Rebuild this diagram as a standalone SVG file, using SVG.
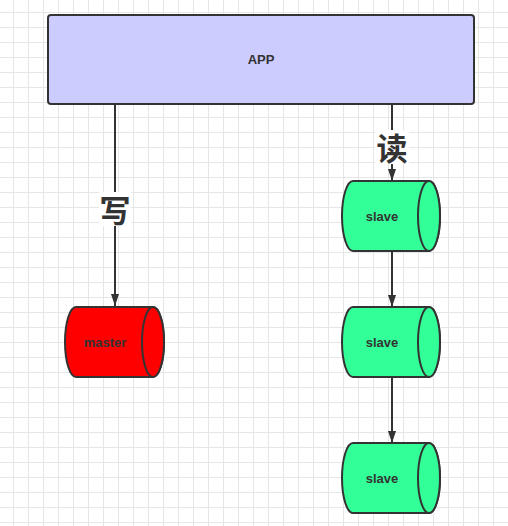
<svg xmlns="http://www.w3.org/2000/svg" width="508" height="526" viewBox="0 0 508 526">
<defs>
<pattern id="grid" patternUnits="userSpaceOnUse" x="13" y="12" width="15" height="15">
<path d="M0 0.5H15M0.5 0V15" stroke="#e6e6e6" stroke-width="1" fill="none"/>
</pattern>
<marker id="arr" viewBox="0 0 12 8" refX="12" refY="4" markerUnits="userSpaceOnUse" markerWidth="12" markerHeight="8" orient="auto">
<path d="M0 0L12 4L0 8Z" fill="#333"/>
</marker>
<style>
.conn{stroke:#333;stroke-width:2;fill:none}
.cyl{stroke:#333;stroke-width:2}
.lbl{font-family:"Liberation Sans",Arial,sans-serif;font-weight:bold;font-size:13px;fill:#333;text-anchor:middle;dominant-baseline:central}
.cjk{font-family:"Noto Sans CJK SC",sans-serif;font-weight:bold;font-size:31px;fill:#333;text-anchor:middle;dominant-baseline:central}
</style>
</defs>
<rect width="508" height="526" fill="#fff"/>
<rect width="508" height="526" fill="url(#grid)"/>
<g id="connectors">
<line class="conn" x1="115" y1="104" x2="115" y2="306" marker-end="url(#arr)"/>
<rect x="99" y="192" width="32" height="34" fill="#fff"/>
<text class="cjk" x="115" y="208">写</text>
<line class="conn" x1="392" y1="104" x2="392" y2="181" marker-end="url(#arr)"/>
<rect x="375" y="130" width="34" height="34" fill="#fff"/>
<text class="cjk" x="392" y="146">读</text>
<line class="conn" x1="392" y1="251" x2="392" y2="307" marker-end="url(#arr)"/>
<line class="conn" x1="392" y1="377" x2="392" y2="443" marker-end="url(#arr)"/>
</g>
<g id="app">
<rect x="48" y="15" width="426" height="89" rx="3" fill="#ccccff" stroke="#333" stroke-width="2"/>
<text class="lbl" x="261" y="59.5">APP</text>
</g>
<g id="master">
<path class="cyl" fill="#ff0000" d="M76 307H153A11 35 0 0 1 153 377H76A11 35 0 0 1 76 307Z"/>
<ellipse class="cyl" fill="#ff0000" cx="153" cy="342" rx="11" ry="35"/>
<text class="lbl" x="105" y="342">master</text>
</g>
<g id="slave1">
<path class="cyl" fill="#33ff99" d="M353 181H429A11 35 0 0 1 429 251H353A11 35 0 0 1 353 181Z"/>
<ellipse class="cyl" fill="#33ff99" cx="429" cy="216" rx="11" ry="35"/>
<text class="lbl" x="382" y="216">slave</text>
</g>
<g id="slave2">
<path class="cyl" fill="#33ff99" d="M353 307H429A11 35 0 0 1 429 377H353A11 35 0 0 1 353 307Z"/>
<ellipse class="cyl" fill="#33ff99" cx="429" cy="342" rx="11" ry="35"/>
<text class="lbl" x="382" y="342">slave</text>
</g>
<g id="slave3">
<path class="cyl" fill="#33ff99" d="M353 443H429A11 35 0 0 1 429 513H353A11 35 0 0 1 353 443Z"/>
<ellipse class="cyl" fill="#33ff99" cx="429" cy="478" rx="11" ry="35"/>
<text class="lbl" x="382" y="478">slave</text>
</g>
</svg>
